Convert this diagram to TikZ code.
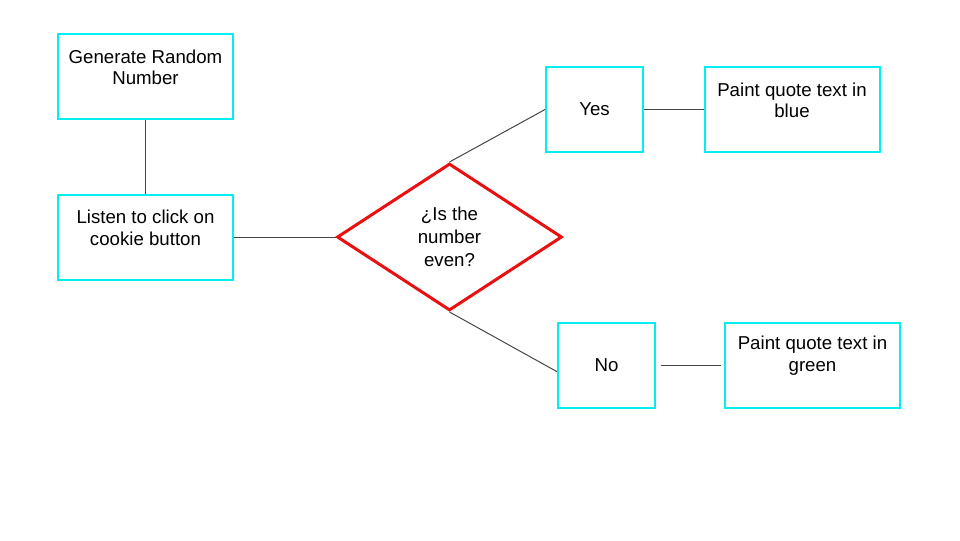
\documentclass[tikz,border=0pt]{standalone}
\usepackage{fontspec}
\setmainfont{Liberation Sans}
\usetikzlibrary{shapes.geometric}
\definecolor{boxcyan}{RGB}{0,240,240}
\definecolor{dred}{RGB}{232,16,16}
\definecolor{conn}{RGB}{70,70,70}
\begin{document}
\begin{tikzpicture}[x=0.75pt,y=-0.75pt,
  every node/.style={font=\fontsize{14}{16}\selectfont},
  bigbox/.style={draw=boxcyan, line width=1.5pt, minimum width=131.25pt, minimum height=63.75pt, inner sep=0pt},
  smallbox/.style={draw=boxcyan, line width=1.5pt, minimum width=72.75pt, minimum height=63.75pt, inner sep=0pt},
  dia/.style={draw=dred, line width=2.25pt, diamond, minimum width=168.75pt, minimum height=110.25pt, inner sep=0pt},
  txt/.style={align=center, inner sep=0pt},
  link/.style={draw=conn, line width=0.75pt}]
\useasboundingbox (0,0) rectangle (960,540);
% boxes
\node[bigbox] (gen) at (145.5,76.5) {};
\node[txt, yshift=7pt] (gent) at (gen.center) {Generate Random\\Number};
\node[bigbox] (listen) at (145.5,237) {};
\node[txt, yshift=7pt] (listent) at (listen.center) {Listen to click on\\cookie button};
\node[dia] (even) at (449.5,237) {};
\node[txt, font=\fontsize{14}{17.25}\selectfont] (event) at (even.center) {¿Is the\\number\\even?};
\node[smallbox] (yes) at (594.5,109.5) {};
\node[txt] (yest) at (yes.center) {Yes};
\node[bigbox] (blue) at (792,109.5) {};
\node[txt, yshift=7pt] (bluet) at (blue.center) {Paint quote text in\\blue};
\node[smallbox] (no) at (606.5,365) {};
\node[txt] (not) at (no.center) {No};
\node[bigbox] (green) at (812.5,365) {};
\node[txt, yshift=7pt] (greent) at (green.center) {Paint quote text in\\green};
% connectors
\draw[link] (gen.south) -- (listen.north);
\draw[link] (listen.east) -- (even.west);
\draw[link] (even.north) -- (yes.west);
\draw[link] (even.south) -- ([yshift=-5pt]no.west);
\draw[link] (yes.east) -- (blue.west);
\draw[link, shorten <=3.5pt, shorten >=2pt] (no.east) -- (green.west);
\end{tikzpicture}
\end{document}
